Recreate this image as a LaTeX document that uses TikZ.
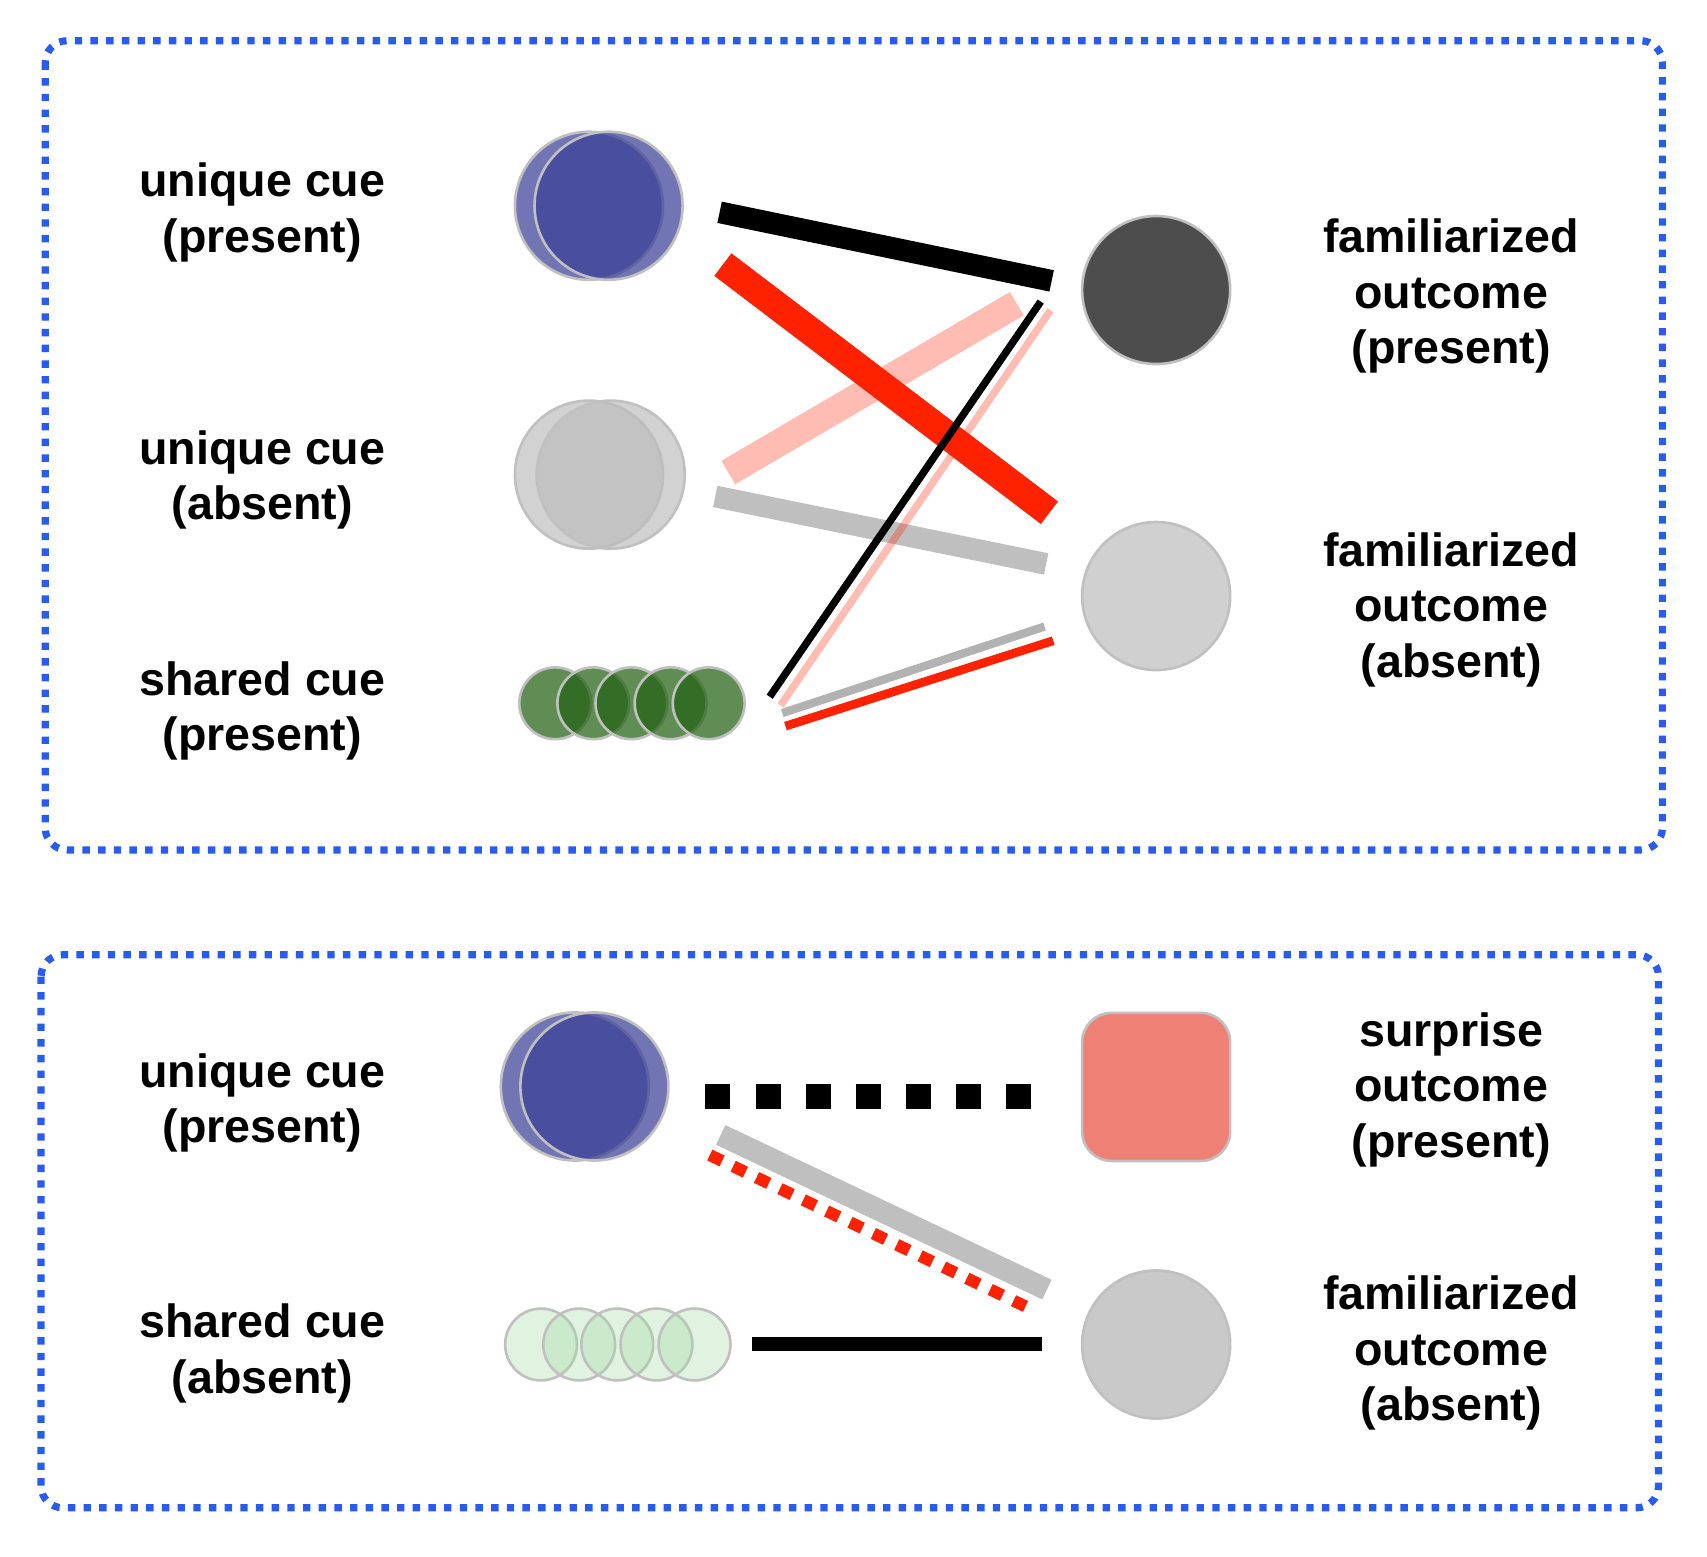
\documentclass[tikz,border=0pt]{standalone}
\usepackage{fontspec}
\setmainfont{Liberation Sans}
\definecolor{boxblue}{RGB}{40,92,240}
\definecolor{cueblue}{RGB}{58,64,150}
\definecolor{cuegray}{RGB}{188,188,188}
\definecolor{cuegreen}{RGB}{35,97,18}
\definecolor{palegreen}{RGB}{160,215,160}
\definecolor{cueedge}{RGB}{192,192,192}
\definecolor{linered}{RGB}{255,34,0}
\definecolor{outdark}{RGB}{77,77,77}
\definecolor{outlight}{RGB}{208,208,208}
\definecolor{outlighttwo}{RGB}{201,201,201}
\definecolor{surprisered}{RGB}{238,128,117}
\begin{document}
\begin{tikzpicture}[x=0.5pt,y=-0.5pt,
  lbl/.style={align=center,font=\fontsize{21.4}{25.5}\selectfont\bfseries,inner sep=0pt},
  bigcue/.style={circle,minimum size=68pt,inner sep=0pt,draw=cueedge,line width=1.2pt},
  smallcue/.style={circle,minimum size=33pt,inner sep=0pt,draw=cueedge,line width=1.2pt},
  outcome/.style={circle,minimum size=68pt,inner sep=0pt,draw=cueedge,line width=1.2pt},
  bluefill/.style={fill=cueblue,fill opacity=0.72},
  grayfill/.style={fill=cuegray,fill opacity=0.67},
  greenfill/.style={fill=cuegreen,fill opacity=0.72},
  palefill/.style={fill=palegreen,fill opacity=0.33},
  groupbox/.style={draw=boxblue,line width=3.3pt,dash pattern=on 3.4pt off 3.8pt,rounded corners=10pt},
  blackbar/.style={line width=10pt,black},
  redbar/.style={line width=13pt,linered},
  pinkbar/.style={line width=12.5pt,linered,draw opacity=0.3},
  graybar/.style={line width=10pt,black,draw opacity=0.25},
  blackthin/.style={line width=3.4pt,black},
  pinkthin/.style={line width=3.4pt,linered,draw opacity=0.3},
  graythin/.style={line width=3.8pt,black,draw opacity=0.3},
  redthin/.style={line width=4pt,linered},
  dashbar/.style={line width=11.3pt,black,dash pattern=on 11.5pt off 11.5pt},
  reddots/.style={line width=5.5pt,linered,dash pattern=on 6.25pt off 5.65pt},
  blackline/.style={line width=6.2pt,black}
]
\useasboundingbox (0,0) rectangle (1568,1430);

% boxes
\draw[groupbox] (41.6,37.4) rectangle (1527,780.7);
\draw[groupbox] (37.7,877) rectangle (1523.5,1385);

% labels
\node[lbl] (lup) at (241,195) {unique cue\\(present)};
\node[lbl] (lua) at (241,441) {unique cue\\(absent)};
\node[lbl] (lsp) at (241,653) {shared cue\\(present)};
\node[lbl] (rfp) at (1333,272) {familiarized\\outcome\\(present)};
\node[lbl] (rfa) at (1333,560) {familiarized\\outcome\\(absent)};
\node[lbl] (bup) at (241,1013) {unique cue\\(present)};
\node[lbl] (bsa) at (241,1243) {shared cue\\(absent)};
\node[lbl] (bsp) at (1333,1001) {surprise\\outcome\\(present)};
\node[lbl] (bfa) at (1333,1243) {familiarized\\outcome\\(absent)};

% cue circles (top)
\node[bigcue,bluefill] (upa) at (541,189) {};
\node[bigcue,bluefill] (upb) at (559,189) {};
\node[bigcue,grayfill] (uaa) at (541,436) {};
\node[bigcue,grayfill] (uab) at (561,436) {};
\node[smallcue,greenfill] (sp1) at (510,646) {};
\node[smallcue,greenfill] (sp2) at (545,646) {};
\node[smallcue,greenfill] (sp3) at (580,646) {};
\node[smallcue,greenfill] (sp4) at (616,646) {};
\node[smallcue,greenfill] (sp5) at (651,646) {};

% cue circles (bottom)
\node[bigcue,bluefill] (bua) at (528,998) {};
\node[bigcue,bluefill] (bub) at (546,998) {};
\node[smallcue,palefill] (sa1) at (497,1235) {};
\node[smallcue,palefill] (sa2) at (532,1235) {};
\node[smallcue,palefill] (sa3) at (567,1235) {};
\node[smallcue,palefill] (sa4) at (603,1235) {};
\node[smallcue,palefill] (sa5) at (638,1235) {};

% outcomes
\node[outcome,fill=outdark] (ofp) at (1062,266.4) {};
\node[outcome,fill=outlight] (ofa) at (1062,547.5) {};
\node[rectangle,rounded corners=13.5pt,minimum size=68pt,inner sep=0pt,draw=cueedge,line width=1.2pt,fill=surprisered] (osp) at (1062,998.4) {};
\node[outcome,fill=outlighttwo] (obfa) at (1062,1235) {};

% connector end points (top)
\coordinate (a1) at (661,195);   \coordinate (a2) at (966,258);
\coordinate (b1) at (664,243);   \coordinate (b2) at (964,471);
\coordinate (c1) at (669,434);   \coordinate (c2) at (934,279);
\coordinate (d1) at (657,456);   \coordinate (d2) at (961,518);
\coordinate (e1) at (707,640);   \coordinate (e2) at (956,277);
\coordinate (f1) at (717,648);   \coordinate (f2) at (965,285);
\coordinate (g1) at (718.5,655); \coordinate (g2) at (959.5,575.5);
\coordinate (h1) at (721.5,667); \coordinate (h2) at (967.5,588.5);
% connector end points (bottom)
\coordinate (i1) at (648,1007);  \coordinate (i2) at (948,1007);
\coordinate (j1) at (662,1042.5); \coordinate (j2) at (961.7,1184.6);
\coordinate (k1) at (652,1061);  \coordinate (k2) at (942,1200);
\coordinate (l1) at (691,1234.5); \coordinate (l2) at (957,1234.5);

% top connectors
\draw[graybar] (d1) -- (d2);
\draw[pinkbar] (c1) -- (c2);
\draw[redbar] (b1) -- (b2);
\draw[blackbar] (a1) -- (a2);
\draw[graythin] (g1) -- (g2);
\draw[redthin] (h1) -- (h2);
\draw[blackthin] (e1) -- (e2);
\draw[pinkthin] (f1) -- (f2);

% bottom connectors
\draw[dashbar] (i1) -- (i2);
\draw[graybar] (j1) -- (j2);
\draw[reddots] (k1) -- (k2);
\draw[blackline] (l1) -- (l2);
\end{tikzpicture}
\end{document}
